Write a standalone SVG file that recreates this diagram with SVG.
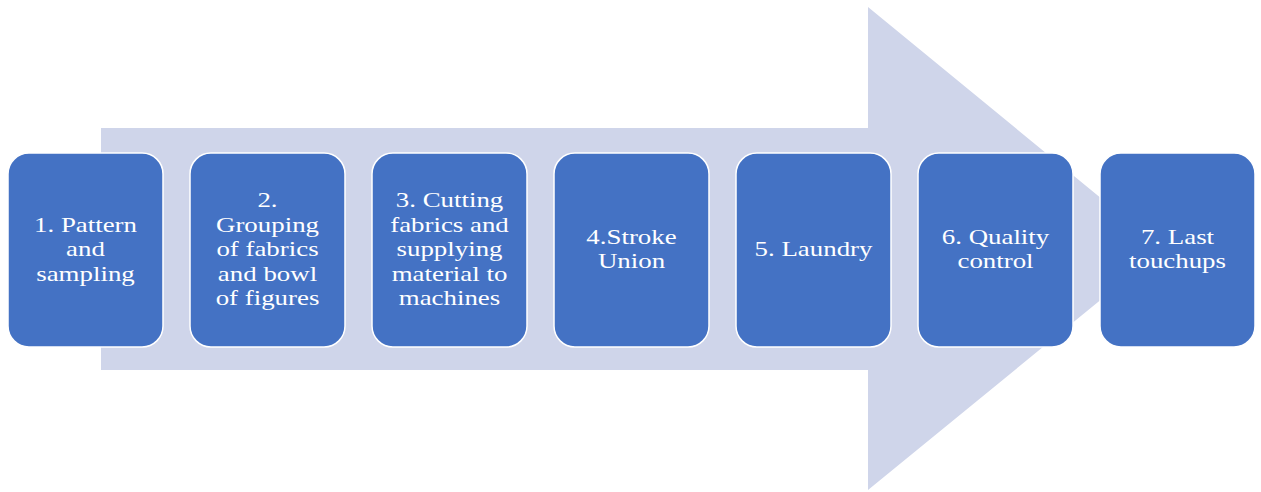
<svg xmlns="http://www.w3.org/2000/svg" width="1261" height="492" viewBox="0 0 1261 492">
  <style>
    .step { fill: #4472C4; stroke: #FFFFFF; stroke-width: 1.5; }
    .label { font-family: "Liberation Serif", "Times New Roman", serif; font-size: 21px; fill: #FFFFFF; text-anchor: middle; }
  </style>
  <!-- background process arrow -->
  <g id="connectors">
    <polygon points="101,128 868,128 868,7 1163,249 868,490 868,370 101,370" fill="#CFD5EA"/>
  </g>

  <g id="step1">
    <rect class="step" x="8" y="153" width="155" height="194" rx="21"/>
    <g transform="translate(85.5,0) scale(1.28,1)">
      <text class="label" x="0" y="232">1. Pattern</text>
      <text class="label" x="0" y="256.5">and</text>
      <text class="label" x="0" y="281">sampling</text>
    </g>
  </g>

  <g id="step2">
    <rect class="step" x="190" y="153" width="155" height="194" rx="21"/>
    <g transform="translate(267.5,0) scale(1.28,1)">
      <text class="label" x="0" y="207.5">2.</text>
      <text class="label" x="0" y="232">Grouping</text>
      <text class="label" x="0" y="256.5">of fabrics</text>
      <text class="label" x="0" y="281">and bowl</text>
      <text class="label" x="0" y="305.5">of figures</text>
    </g>
  </g>

  <g id="step3">
    <rect class="step" x="372" y="153" width="155" height="194" rx="21"/>
    <g transform="translate(449.5,0) scale(1.28,1)">
      <text class="label" x="0" y="207.5">3. Cutting</text>
      <text class="label" x="0" y="232">fabrics and</text>
      <text class="label" x="0" y="256.5">supplying</text>
      <text class="label" x="0" y="281">material to</text>
      <text class="label" x="0" y="305.5">machines</text>
    </g>
  </g>

  <g id="step4">
    <rect class="step" x="554" y="153" width="155" height="194" rx="21"/>
    <g transform="translate(631.5,0) scale(1.28,1)">
      <text class="label" x="0" y="244">4.Stroke</text>
      <text class="label" x="0" y="268.5">Union</text>
    </g>
  </g>

  <g id="step5">
    <rect class="step" x="736" y="153" width="155" height="194" rx="21"/>
    <g transform="translate(813.5,0) scale(1.28,1)">
      <text class="label" x="0" y="256">5. Laundry</text>
    </g>
  </g>

  <g id="step6">
    <rect class="step" x="918" y="153" width="155" height="194" rx="21"/>
    <g transform="translate(995.5,0) scale(1.28,1)">
      <text class="label" x="0" y="244">6. Quality</text>
      <text class="label" x="0" y="268.5">control</text>
    </g>
  </g>

  <g id="step7">
    <rect class="step" x="1100" y="153" width="155" height="194" rx="21"/>
    <g transform="translate(1177.5,0) scale(1.28,1)">
      <text class="label" x="0" y="244">7. Last</text>
      <text class="label" x="0" y="268.5">touchups</text>
    </g>
  </g>
</svg>
